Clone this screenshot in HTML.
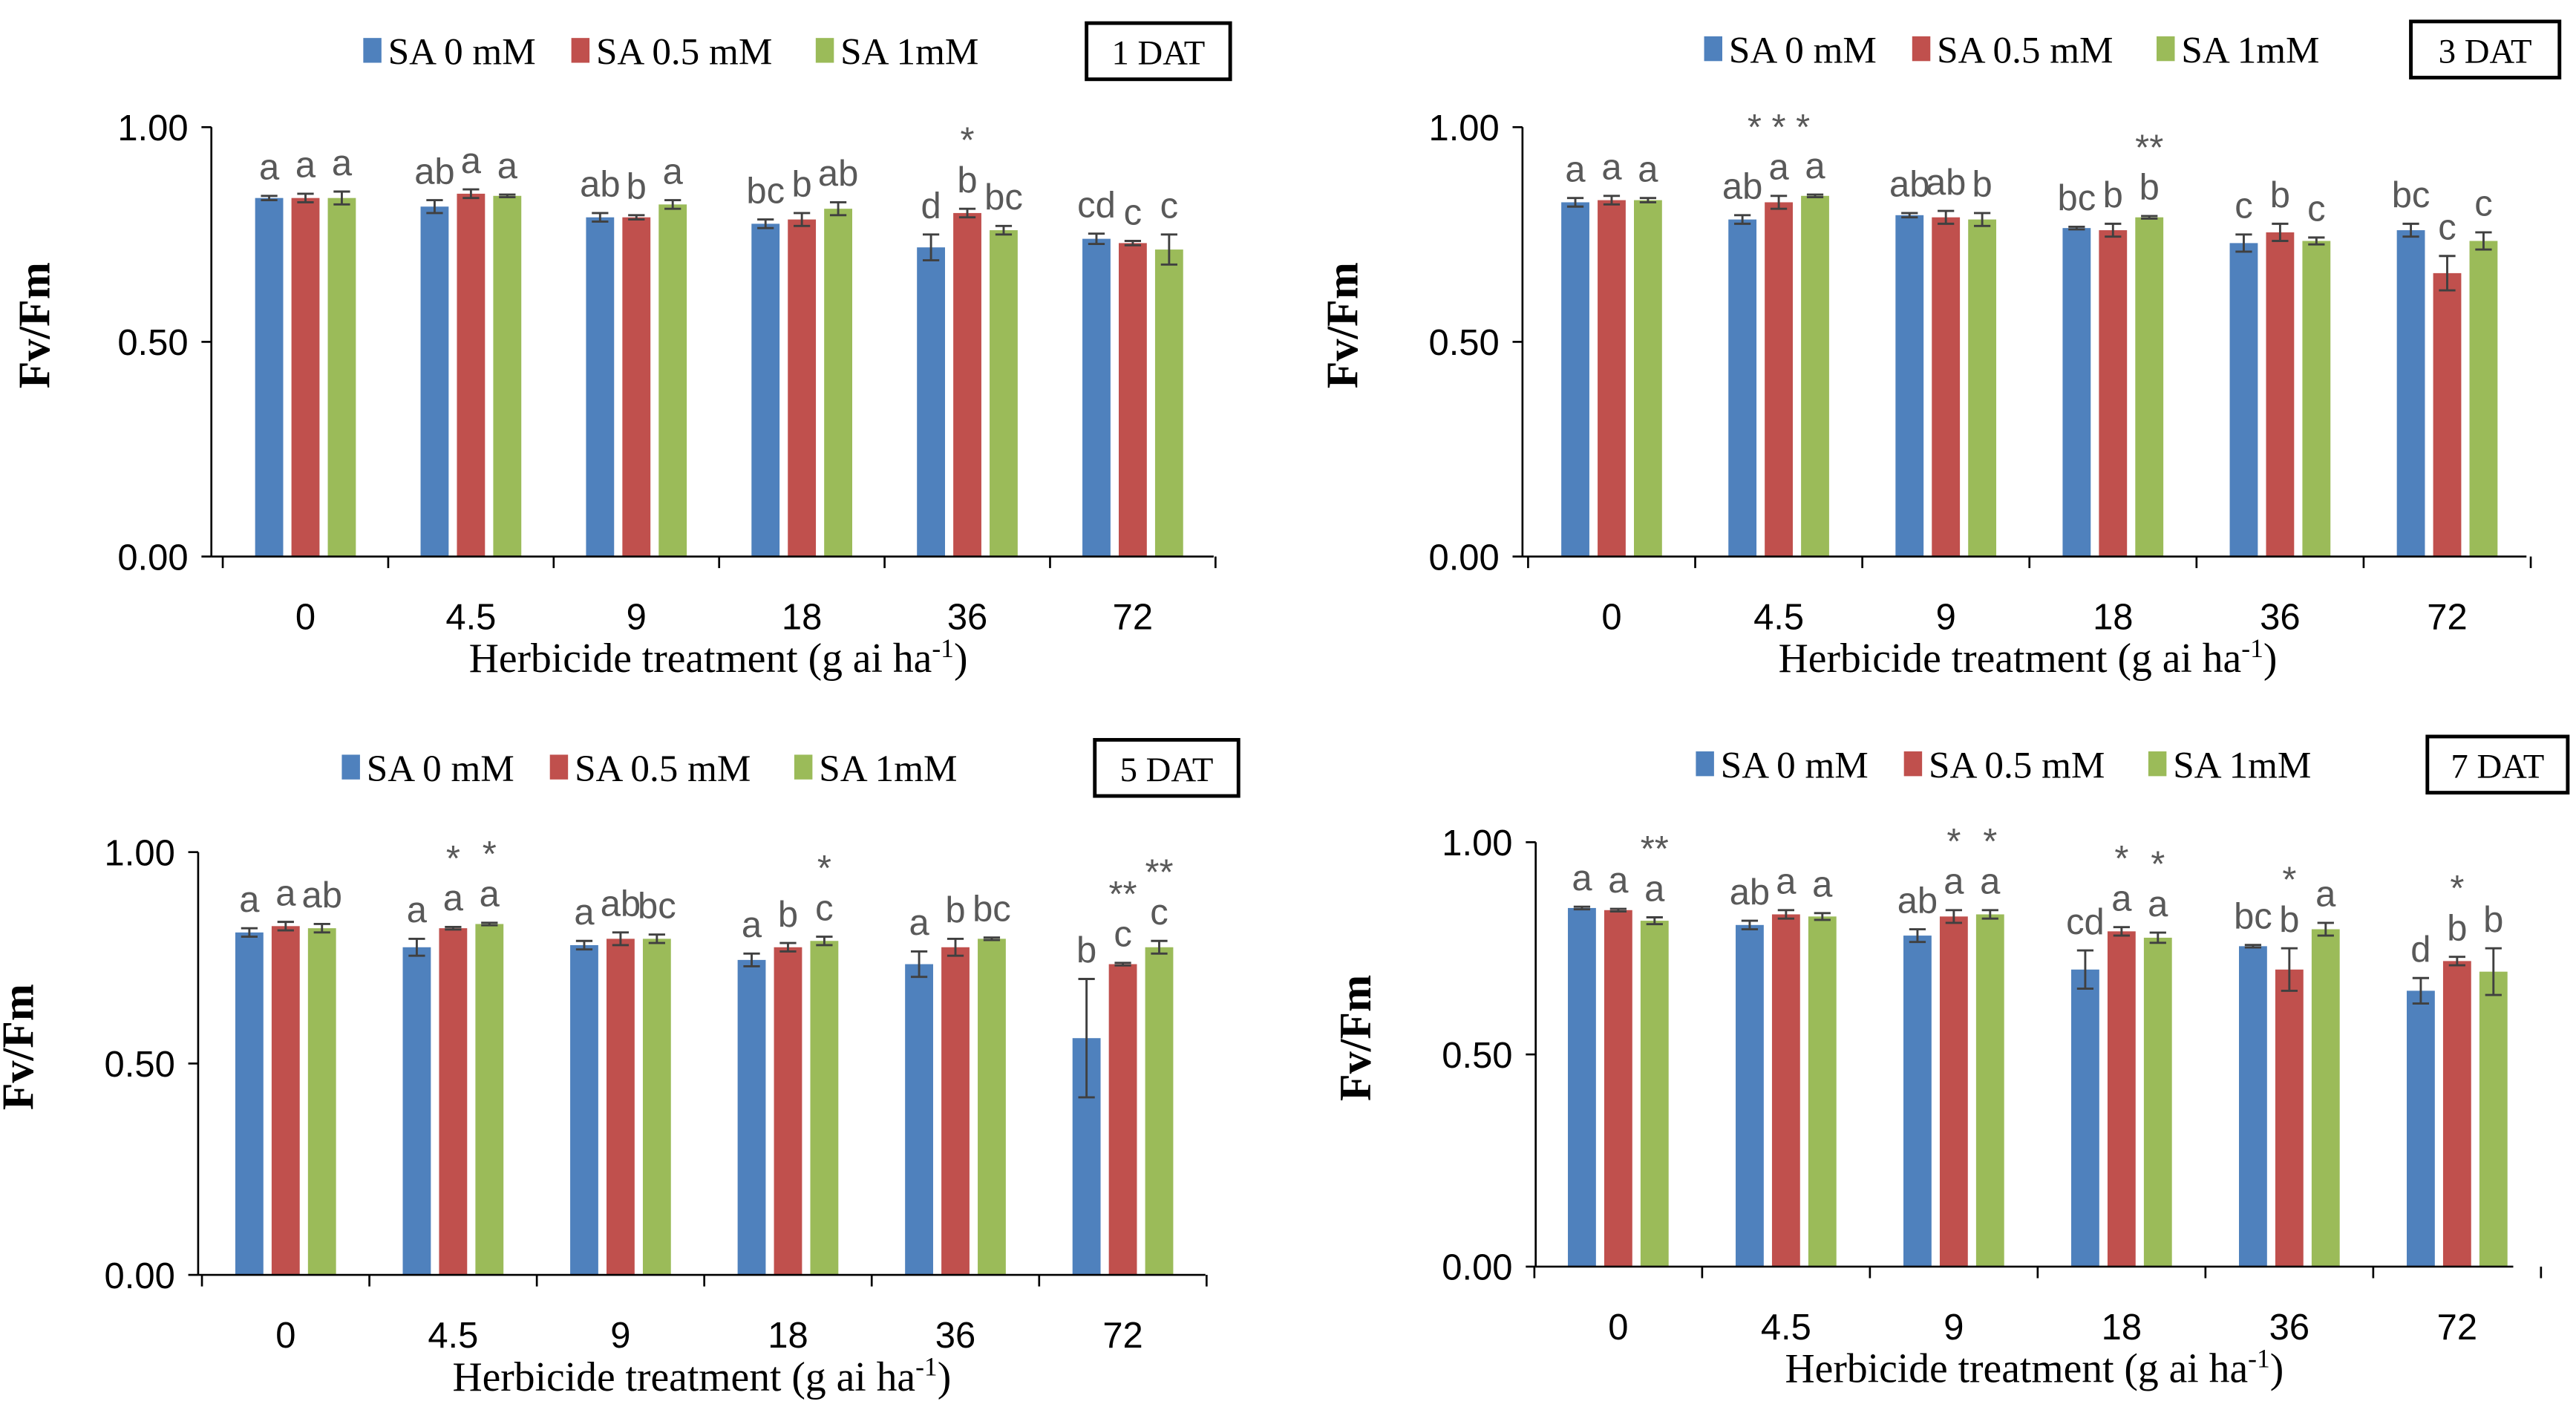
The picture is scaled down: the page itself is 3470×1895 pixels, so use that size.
<!DOCTYPE html>
<html><head><meta charset="utf-8"><style>
html,body{margin:0;padding:0;background:#fff}
svg{display:block}
.t{font-family:"Liberation Sans",sans-serif;fill:#595959}
.s{font-family:"Liberation Serif",serif;fill:#000}
</style></head><body>
<svg id="root" width="3470" height="1895" viewBox="0 0 1560 852" preserveAspectRatio="none" xmlns="http://www.w3.org/2000/svg"></svg>
<script>
const categories = ["0","4.5","9","18","36","72"];
const seriesNames = ["SA 0 mM","SA 0.5 mM","SA 1mM"];
const seriesColors = ["#4f81bd","#c0504d","#9bbb59"];
const yTicks = [0,0.5,1.0];
const yTickLabels = ["0.00","0.50","1.00"];
const panelTitles = ["1 DAT","3 DAT","5 DAT","7 DAT"];

const p1Blue=[0.835,0.815,0.79,0.775,0.72,0.74], p1Red=[0.835,0.845,0.79,0.785,0.80,0.73], p1Green=[0.835,0.84,0.82,0.81,0.76,0.715];
const p1BlueErr=[0.005,0.015,0.01,0.01,0.03,0.012], p1RedErr=[0.01,0.01,0.005,0.015,0.01,0.005], p1GreenErr=[0.015,0.003,0.01,0.015,0.01,0.035];
const p1Letters=[["a","ab","ab","bc","d","cd"],["a","a","b","b","b","c"],["a","a","a","ab","bc","c"]];
const p1Stars=[[4,1,"*"]];

const p2Blue=[0.825,0.785,0.795,0.765,0.73,0.76], p2Red=[0.83,0.825,0.79,0.76,0.755,0.66], p2Green=[0.83,0.84,0.785,0.79,0.735,0.735];
const p2BlueErr=[0.01,0.01,0.005,0.003,0.02,0.015], p2RedErr=[0.01,0.015,0.015,0.015,0.02,0.04], p2GreenErr=[0.005,0.003,0.015,0.003,0.008,0.02];
const p2Letters=[["a","ab","ab","bc","c","bc"],["a","a","ab","b","b","c"],["a","a","b","b","c","c"]];
const p2Stars=[[1,1,"* * *"],[3,2,"**"]];

const p3Blue=[0.81,0.775,0.78,0.745,0.735,0.56], p3Red=[0.825,0.82,0.795,0.775,0.775,0.735], p3Green=[0.82,0.83,0.795,0.79,0.795,0.775];
const p3BlueErr=[0.01,0.02,0.01,0.015,0.03,0.14], p3RedErr=[0.01,0.003,0.015,0.01,0.02,0.003], p3GreenErr=[0.01,0.003,0.01,0.01,0.003,0.015];
const p3Letters=[["a","a","a","a","a","b"],["a","a","ab","b","b","c"],["ab","a","bc","c","bc","c"]];
const p3Stars=[[1,1,"*"],[1,2,"*"],[3,2,"*"],[5,1,"**"],[5,2,"**"]];

const p4Blue=[0.845,0.805,0.78,0.70,0.755,0.65], p4Red=[0.84,0.83,0.825,0.79,0.70,0.72], p4Green=[0.815,0.825,0.83,0.775,0.795,0.695];
const p4BlueErr=[0.003,0.01,0.015,0.045,0.003,0.03], p4RedErr=[0.003,0.01,0.015,0.01,0.05,0.01], p4GreenErr=[0.008,0.008,0.01,0.012,0.015,0.055];
const p4Letters=[["a","ab","ab","cd","bc","d"],["a","a","a","a","b","b"],["a","a","a","a","a","b"]];
const p4Stars=[[0,2,"**"],[2,1,"*"],[2,2,"*"],[3,1,"*"],[3,2,"*"],[4,1,"*"],[5,1,"*"]];

const panels=[
 {ax:128,y1:77,y0:337,xe:735,c0:185,dc:100.2,ly:31,lx:220,bx:658,bw:87,vals:[p1Blue,p1Red,p1Green],errs:[p1BlueErr,p1RedErr,p1GreenErr],letters:p1Letters,stars:p1Stars,ylx:30,xt:435},
 {ax:922,y1:77,y0:337,xe:1530,c0:976,dc:101.2,ly:30,lx:1032,bx:1460,bw:90,vals:[p2Blue,p2Red,p2Green],errs:[p2BlueErr,p2RedErr,p2GreenErr],letters:p2Letters,stars:p2Stars,ylx:822,xt:1228},
 {ax:120,y1:516,y0:772,xe:730,c0:173,dc:101.4,ly:465,lx:207,bx:663,bw:87,vals:[p3Blue,p3Red,p3Green],errs:[p3BlueErr,p3RedErr,p3GreenErr],letters:p3Letters,stars:p3Stars,ylx:20,xt:425},
 {ax:930,y1:510,y0:767,xe:1522,c0:980,dc:101.6,ly:463,lx:1027,bx:1470,bw:85,vals:[p4Blue,p4Red,p4Green],errs:[p4BlueErr,p4RedErr,p4GreenErr],letters:p4Letters,stars:p4Stars,ylx:830,xt:1232}
];
const NS="http://www.w3.org/2000/svg";
const root=document.getElementById('root');
function mk(tag,attrs,parent,text){const e=document.createElementNS(NS,tag);for(const k in attrs)e.setAttribute(k,attrs[k]);if(text!==undefined)e.textContent=text;parent.appendChild(e);return e;}
panels.forEach((p,pi)=>{
 const g=mk('g',{},root);
 
 
 const Y=v=>p.y0-(v-0)*(p.y0-p.y1)/1.0;
 const X=(ci,si)=>p.c0+ci*p.dc+(si-1)*22;
 // axes
 const ya=mk('line',{x1:p.ax,y1:p.y1,x2:p.ax,y2:p.y0,stroke:'#000','stroke-width':1.2},g);
 
 
 yTicks.forEach((t,i)=>{
  mk('line',{x1:p.ax-6,y1:Y(t),x2:p.ax,y2:Y(t),stroke:'#000','stroke-width':1.2},g);
  const tl=mk('text',{x:p.ax-14,y:Y(t)+8,'text-anchor':'end','font-size':22,class:'t',fill:'#000',style:'fill:#000'},g,yTickLabels[i]);
  
  
 });
 // bars
 p.vals.forEach((arr,si)=>{
  arr.forEach((v,ci)=>{
   const cx=X(ci,si), w=17;
   const r=mk('rect',{x:cx-w/2,y:Y(v),width:w,height:p.y0-Y(v),fill:seriesColors[si]},g);
   
   
   const e=p.errs[si][ci];
   mk('path',{d:`M${cx} ${Y(v+e)}V${Y(v-e)}M${cx-5} ${Y(v+e)}H${cx+5}M${cx-5} ${Y(v-e)}H${cx+5}`,stroke:'#404040','stroke-width':1.3,fill:'none'},g);
   const lt=mk('text',{x:cx,y:Y(v+e)-10,'text-anchor':'middle','font-size':22,class:'t'},g,p.letters[si][ci]);
   
   
  });
 });
 p.stars.forEach(s=>{
  const [ci,si,txt]=s;const v=p.vals[si][ci],e=p.errs[si][ci];
  const st=mk('text',{x:X(ci,si),y:Y(v+e)-34,'text-anchor':'middle','font-size':22,class:'t'},g,txt);
  
  
 });
 // x axis
 const xa=mk('line',{x1:p.ax,y1:p.y0,x2:p.xe,y2:p.y0,stroke:'#000','stroke-width':1.2},g);
 
 
 for(let i=0;i<=6;i++){const tx=p.c0+(i-0.5)*p.dc;mk('line',{x1:tx,y1:p.y0,x2:tx,y2:p.y0+7,stroke:'#000','stroke-width':1.2},g);}
 categories.forEach((c,ci)=>{
  const xl=mk('text',{x:p.c0+ci*p.dc,y:p.y0+44,'text-anchor':'middle','font-size':22,class:'t',style:'fill:#000'},g,c);
  
  
 });
 const xt=mk('text',{x:p.xt,y:p.y0+70,'text-anchor':'middle','font-size':25,class:'s'},g);
 
 
 xt.appendChild(document.createTextNode('Herbicide treatment (g ai ha'));
 mk('tspan',{dy:-9,'font-size':16},xt,'-1');
 mk('tspan',{dy:9},xt,')');
 const yc=(p.y0+p.y1)/2;
 const yt=mk('text',{x:p.ylx+10,y:yc,'text-anchor':'middle','font-size':27,class:'s','font-weight':'bold',transform:`rotate(-90 ${p.ylx} ${yc})`},g,'Fv/Fm');
 
 
 // legend
 let lx=p.lx;const legW=[126,148,118];
 seriesNames.forEach((n,si)=>{
  const le=mk('g',{},g);
  
  
  mk('rect',{x:lx,y:p.ly-8,width:11,height:15,fill:seriesColors[si]},le);
  mk('text',{x:lx+15,y:p.ly+8,'font-size':23,class:'s'},le,n);
  lx+=legW[si];
 });
 const bg=mk('g',{},g);
 
 
 mk('rect',{x:p.bx,y:p.ly-17,width:p.bw,height:34,fill:'#fff',stroke:'#000','stroke-width':2.2},bg);
 mk('text',{x:p.bx+p.bw/2,y:p.ly+8,'text-anchor':'middle','font-size':21,class:'s'},bg,panelTitles[pi]);
});
</script>
</body></html>
